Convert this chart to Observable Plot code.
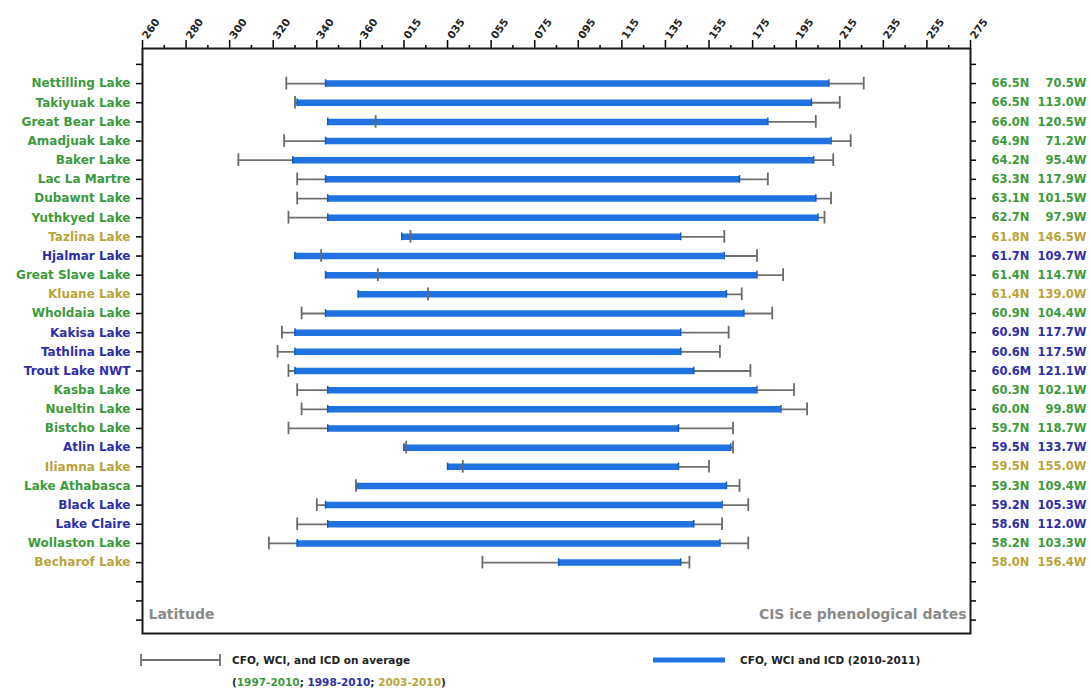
<!DOCTYPE html>
<html>
<head>
<meta charset="utf-8">
<script src="https://cdn.jsdelivr.net/npm/d3@7"></script>
<script src="https://cdn.jsdelivr.net/npm/@observablehq/plot@0.6"></script>
<style>
  html, body { margin: 0; padding: 0; background: #fff; }
  body { width: 1091px; height: 692px; overflow: hidden; font-family: "DejaVu Sans", Arial, sans-serif; }
  #legend { position: relative; width: 1091px; height: 47px; }
  #legend .t { position: absolute; font-weight: bold; font-size: 10.5px; color: #222; white-space: nowrap; }
</style>
</head>
<body>
<div id="chart"></div>
<div id="legend">
  <svg style="position:absolute;left:0;top:0" width="1091" height="47">
    <line x1="141" x2="220" y1="15" y2="15" stroke="#707070" stroke-width="1.8"/>
    <line x1="141" x2="141" y1="9" y2="21" stroke="#707070" stroke-width="1.8"/>
    <line x1="220" x2="220" y1="9" y2="21" stroke="#707070" stroke-width="1.8"/>
    <line x1="653" x2="725" y1="15" y2="15" stroke="#1f72e0" stroke-width="5"/>
  </svg>
  <div class="t" style="left:232px;top:9px">CFO, WCI, and ICD on average</div>
  <div class="t" style="left:232px;top:31px">(<span style="color:#3c9a3c">1997-2010</span>; <span style="color:#2e2ea8">1998-2010</span>; <span style="color:#b8a43a">2003-2010</span>)</div>
  <div class="t" style="left:740px;top:9px">CFO, WCI and ICD (2010-2011)</div>
</div>
<script>
// Lakes (top to bottom)
const lakes = ["Nettilling Lake","Takiyuak Lake","Great Bear Lake","Amadjuak Lake","Baker Lake","Lac La Martre","Dubawnt Lake","Yuthkyed Lake","Tazlina Lake","Hjalmar Lake","Great Slave Lake","Kluane Lake","Wholdaia Lake","Kakisa Lake","Tathlina Lake","Trout Lake NWT","Kasba Lake","Nueltin Lake","Bistcho Lake","Atlin Lake","Iliamna Lake","Lake Athabasca","Black Lake","Lake Claire","Wollaston Lake","Becharof Lake"];
// Record period group: G = 1997-2010, B = 1998-2010, O = 2003-2010
const groups = ["G","G","G","G","G","G","G","G","O","B","G","O","G","B","B","B","G","G","G","B","O","G","B","B","G","O"];
const lats = ["66.5N","66.5N","66.0N","64.9N","64.2N","63.3N","63.1N","62.7N","61.8N","61.7N","61.4N","61.4N","60.9N","60.9N","60.6N","60.6M","60.3N","60.0N","59.7N","59.5N","59.5N","59.3N","59.2N","58.6N","58.2N","58.0N"];
const lons = ["70.5W","113.0W","120.5W","71.2W","95.4W","117.9W","101.5W","97.9W","146.5W","109.7W","114.7W","139.0W","104.4W","117.7W","117.5W","121.1W","102.1W","99.8W","118.7W","133.7W","155.0W","109.4W","105.3W","112.0W","103.3W","156.4W"];
// Day numbers counted from Jan 1 of the first year (values > 365 are in the following year)
const avgStart = [326,330,367,325,304,331,331,327,383,342,368,391,333,324,322,327,331,333,327,381,407,358,340,331,318,416];
const avgEnd   = [591,580,569,585,577,547,576,573,527,542,554,535,549,529,525,539,559,565,531,531,520,534,538,526,538,511];
const barStart = [344,331,345,344,329,344,345,345,379,330,344,359,344,330,330,330,345,345,345,380,400,358,344,345,331,451];
const barEnd   = [575,567,547,576,568,534,569,570,507,527,542,528,536,507,507,513,542,553,506,530,506,528,526,513,525,507];
// Axis ticks
const majorTicks = d3.range(260, 641, 20);
const minorTicks = d3.range(270, 640, 20);
const rowTicks = d3.range(-1, 29);

const groupColor = {G: "#3c9a3c", B: "#2e2ea8", O: "#b8a43a"};
const data = lakes.map((name, i) => ({
  i, name, group: groups[i], lat: lats[i], lon: lons[i],
  ws: avgStart[i], we: avgEnd[i], bs: barStart[i], be: barEnd[i]
}));
const fmtDay = d => String(d > 365 ? d - 365 : d).padStart(3, "0");

const chart = Plot.plot({
  width: 1091,
  height: 645,
  marginLeft: 142,
  marginRight: 121,
  marginTop: 48,
  marginBottom: 12,
  x: {domain: [260, 640]},
  y: {domain: [-1.83, 28.7], reverse: true},
  style: {fontFamily: "'DejaVu Sans', Arial, sans-serif", background: "white", overflow: "visible"},
  marks: [
    Plot.axisX({anchor: "top", ticks: minorTicks, tickSize: 4, tickFormat: () => "", label: null, strokeWidth: 1.5}),
    Plot.axisX({anchor: "top", ticks: majorTicks, tickSize: 9, tickFormat: () => "", label: null, strokeWidth: 1.5}),
    Plot.text(majorTicks, {x: d => d, frameAnchor: "top", dy: -13, dx: -1, rotate: -55, textAnchor: "start", text: fmtDay, fontWeight: "bold", fontSize: 10.5, fill: "#222"}),
    Plot.axisY({anchor: "left", ticks: rowTicks, tickSize: 6, tickFormat: () => "", label: null, strokeWidth: 1.5}),
    Plot.axisY({anchor: "right", ticks: rowTicks, tickSize: 5, tickFormat: () => "", label: null, strokeWidth: 1.5}),
    // average whiskers
    Plot.ruleY(data, {y: "i", x1: "ws", x2: "we", stroke: "#707070", strokeWidth: 1.8}),
    // 2010-2011 bars
    Plot.ruleY(data, {y: "i", x1: "bs", x2: "be", stroke: "#1f72e0", strokeWidth: 6.5}),
    Plot.ruleX(data, {x: "bs", y1: d => d.i - 0.2, y2: d => d.i + 0.2, stroke: "#1458c0", strokeWidth: 1.5}),
    Plot.ruleX(data, {x: "be", y1: d => d.i - 0.2, y2: d => d.i + 0.2, stroke: "#1458c0", strokeWidth: 1.5}),
    // whisker caps
    Plot.ruleX(data, {x: "ws", y1: d => d.i - 0.33, y2: d => d.i + 0.33, stroke: "#6a6a6a", strokeWidth: 1.8}),
    Plot.ruleX(data, {x: "we", y1: d => d.i - 0.33, y2: d => d.i + 0.33, stroke: "#6a6a6a", strokeWidth: 1.8}),
    // lake labels
    Plot.text(data, {y: "i", frameAnchor: "left", dx: -12, textAnchor: "end", text: "name", fill: d => groupColor[d.group], fontWeight: "bold", fontSize: 12}),
    Plot.text(data, {y: "i", frameAnchor: "right", dx: 21, textAnchor: "start", text: "lat", fill: d => groupColor[d.group], fontWeight: "bold", fontSize: 11.5}),
    Plot.text(data, {y: "i", frameAnchor: "right", dx: 116, textAnchor: "end", text: "lon", fill: d => groupColor[d.group], fontWeight: "bold", fontSize: 11.5}),
    Plot.text(["Latitude"], {frameAnchor: "bottom-left", dx: 6, dy: -15, text: d => d, fill: "#8a8a8a", fontWeight: "bold", fontSize: 14}),
    Plot.text(["CIS ice phenological dates"], {frameAnchor: "bottom-right", dx: -4, dy: -15, text: d => d, fill: "#8a8a8a", fontWeight: "bold", fontSize: 14}),
    Plot.frame({stroke: "#1a1a1a", strokeWidth: 2})
  ]
});
document.getElementById("chart").appendChild(chart);
</script>
</body>
</html>
